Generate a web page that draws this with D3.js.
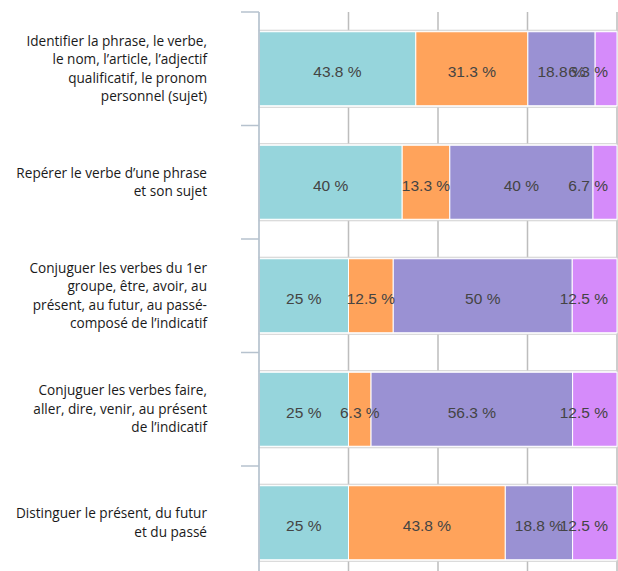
<!DOCTYPE html>
<html>
<head>
<meta charset="utf-8">
<script src="https://cdn.jsdelivr.net/npm/d3@7"></script>
<style>
  body { margin: 0; background: #fff; }
  .cat-label { font-family: "Open Sans", sans-serif; font-size: 13.6px; fill: #1a1a1a; }
  .seg-label { font-family: "Liberation Sans", Arial, sans-serif; font-size: 15.5px; fill: #444; }
</style>
</head>
<body>
<div id="chart"></div>
<script>
const categories = [
  ["Identifier la phrase, le verbe,", "le nom, l’article, l’adjectif", "qualificatif, le pronom", "personnel (sujet)"],
  ["Repérer le verbe d’une phrase", "et son sujet"],
  ["Conjuguer les verbes du 1er", "groupe, être, avoir, au", "présent, au futur, au passé-", "composé de l’indicatif"],
  ["Conjuguer les verbes faire,", "aller, dire, venir, au présent", "de l’indicatif"],
  ["Distinguer le présent, du futur", "et du passé"]
];

const series1 = [43.8, 40, 25, 25, 25];
const series2 = [31.3, 13.3, 12.5, 6.3, 43.8];
const series3 = [18.8, 40, 50, 56.3, 18.8];
const series4 = [6.3, 6.7, 12.5, 12.5, 12.5];

const gridTicks = [25, 50, 75, 100];

const colors = ["#96d5dc", "#ffa35b", "#9a91d3", "#d58bfa"];

const width = 618;
const height = 571;
const formatLabel = d => `${d} %`;

const svg = d3.select("#chart").append("svg")
  .attr("width", width)
  .attr("height", height);

const ids = categories.map((d, i) => i);

const x = d3.scaleLinear()
  .domain([0, 100])
  .range([259, 617])
  .clamp(true);

const y = d3.scaleBand()
  .domain(ids)
  .range([12, 579.5])
  .paddingInner(0.348)
  .paddingOuter(0.174);

const allSeries = [series1, series2, series3, series4];
const rows = ids.map(i => {
  let start = 0;
  return allSeries.map((s, k) => {
    const seg = { row: i, k: k, x0: start, x1: start + s[i], value: s[i] };
    start += s[i];
    return seg;
  });
});

// vertical gridlines
svg.selectAll(".grid")
  .data(gridTicks)
  .enter()
  .append("line")
  .attr("x1", d => x(d))
  .attr("x2", d => x(d))
  .attr("y1", y.range()[0])
  .attr("y2", height)
  .attr("stroke", "#bdbdbd")
  .attr("stroke-width", 1.5);

// band frames behind bars
svg.selectAll(".frame")
  .data(ids)
  .enter()
  .append("rect")
  .attr("x", x(0))
  .attr("y", d => y(d) - 1.5)
  .attr("width", x(100) - x(0))
  .attr("height", y.bandwidth() + 3)
  .attr("fill", "#fff")
  .attr("stroke", "#cfcfcf")
  .attr("stroke-width", 1);

const rowG = svg.selectAll(".row")
  .data(rows)
  .enter()
  .append("g");

rowG.selectAll("rect")
  .data(d => d)
  .enter()
  .append("rect")
  .attr("x", d => x(d.x0))
  .attr("y", d => y(d.row))
  .attr("width", d => x(d.x1) - x(d.x0))
  .attr("height", y.bandwidth())
  .attr("fill", d => colors[d.k])
  .attr("stroke", "#fff")
  .attr("stroke-width", 1);

// labels are kept inside the plot: pushed left when they would pass the right edge
const labelLimit = x(100) - 9;
rowG.selectAll("text")
  .data(d => d)
  .enter()
  .append("text")
  .attr("class", "seg-label")
  .attr("y", d => y(d.row) + y.bandwidth() / 2 + 8.5)
  .attr("text-anchor", "middle")
  .text(d => formatLabel(d.value))
  .attr("x", function(d) {
    const half = this.getComputedTextLength() / 2;
    return Math.min(x((d.x0 + d.x1) / 2), labelLimit - half);
  });

// left axis
const axisColor = "#b6c2ce";
svg.append("line")
  .attr("x1", x(0))
  .attr("x2", x(0))
  .attr("y1", y.range()[0])
  .attr("y2", height)
  .attr("stroke", axisColor)
  .attr("stroke-width", 1.7);

const boundaries = d3.range(categories.length + 1).map(i => y.range()[0] + i * y.step());
svg.selectAll(".tick")
  .data(boundaries.filter(b => b < height))
  .enter()
  .append("line")
  .attr("x1", x(0) - 18)
  .attr("x2", x(0))
  .attr("y1", d => d)
  .attr("y2", d => d)
  .attr("stroke", axisColor)
  .attr("stroke-width", 1.5);

// category labels
const lineHeight = 18.5;
svg.selectAll(".cat-label")
  .data(categories)
  .enter()
  .append("text")
  .attr("class", "cat-label")
  .attr("text-anchor", "end")
  .each(function(lines, i) {
    const cy = y(i) + y.bandwidth() / 2;
    const top = cy - (lines.length - 1) * lineHeight / 2 + 4.5;
    d3.select(this).selectAll("tspan")
      .data(lines)
      .enter()
      .append("tspan")
      .attr("x", 207)
      .attr("y", (d, j) => top + j * lineHeight)
      .text(d => d);
  });
</script>
</body>
</html>
